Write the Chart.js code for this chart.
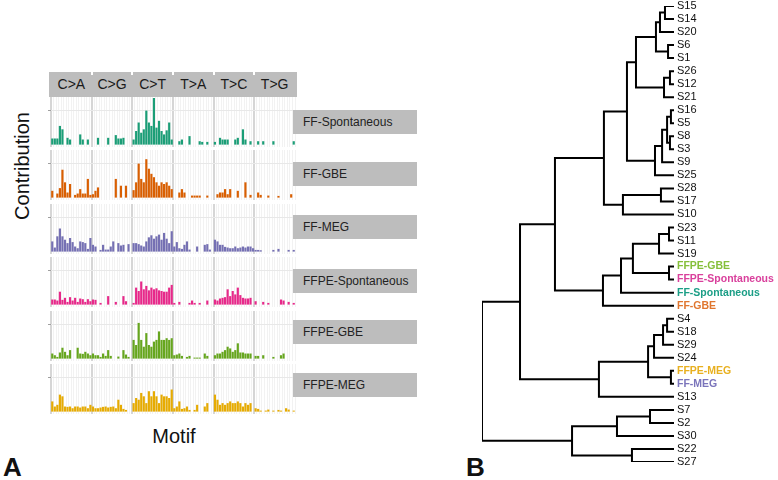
<!DOCTYPE html>
<html>
<head>
<meta charset="utf-8">
<script src="https://cdn.jsdelivr.net/npm/chart.js@4.4.1/dist/chart.umd.min.js"></script>
<style>
  body { margin: 0; background: #fff; width: 778px; height: 480px; overflow: hidden; position: relative;
         font-family: "Liberation Sans", Arial, sans-serif; color: #111; }
  .abs { position: absolute; }
  canvas { position: absolute; }
  .strip { background: #bdbdbd; }
  .stripText { font-size: 14px; text-align: center; line-height: 25px; color: #1a1a1a; }
  .rowLabel { background: #bdbdbd; font-size: 12px; line-height: 24px; padding-left: 10px; box-sizing: border-box; color: #222; }
  .title { font-size: 20px; text-align: center; line-height: 24px; }
  .panel { font-size: 26px; font-weight: bold; line-height: 26px; }
</style>
</head>
<body>
<div class="abs title" style="left:-78px; top:154px; width:200px; transform:rotate(-90deg);">Contribution</div>
<div class="abs title" style="left:124px; top:424px; width:100px;">Motif</div>
<div class="abs panel" style="left:3px; top:454px;">A</div>
<div class="abs panel" style="left:466px; top:454px;">B</div>

<script>
// ---- panel A data (contribution) ----
const facets = ['C>A', 'C>G', 'C>T', 'T>A', 'T>C', 'T>G'];
const bases = ['A', 'C', 'G', 'T'];
const motifs = [];
facets.forEach(f => bases.forEach(l => bases.forEach(r => motifs.push(l + '[' + f + ']' + r))));

const samples = ['FF-Spontaneous', 'FF-GBE', 'FF-MEG', 'FFPE-Spontaneous', 'FFPE-GBE', 'FFPE-MEG'];

const ffSpontaneous = [
  18, 18, 18, 55, 45, 0, 20, 15, 0, 0, 0, 30, 15, 0, 15, 0,
  0, 0, 20, 0, 0, 0, 20, 0, 0, 28, 18, 18, 20, 0, 0, 0,
  15, 40, 65, 35, 45, 100, 65, 55, 137, 50, 70, 40, 30, 42, 65, 15,
  0, 0, 10, 15, 0, 0, 25, 0, 0, 0, 10, 8, 0, 8, 0, 0,
  8, 0, 20, 15, 15, 15, 0, 0, 15, 20, 0, 45, 15, 0, 10, 0,
  0, 10, 0, 10, 0, 0, 0, 10, 0, 0, 0, 0, 0, 0, 0, 10
];
const ffGbe = [
  20, 0, 12, 28, 82, 45, 15, 40, 0, 8, 12, 25, 12, 12, 55, 8,
  10, 20, 30, 0, 0, 0, 0, 0, 0, 55, 0, 35, 0, 35, 0, 0,
  22, 45, 100, 55, 45, 113, 85, 70, 60, 45, 35, 45, 40, 45, 35, 25,
  0, 0, 15, 25, 15, 0, 0, 6, 6, 6, 6, 0, 0, 6, 0, 0,
  0, 10, 15, 15, 25, 10, 25, 0, 0, 20, 0, 0, 45, 0, 8, 0,
  0, 15, 8, 0, 0, 6, 0, 0, 0, 5, 0, 0, 0, 0, 10, 0
];
const ffMeg = [
  30, 12, 45, 68, 45, 35, 25, 40, 28, 15, 10, 30, 28, 25, 8, 40,
  20, 15, 0, 5, 20, 6, 6, 15, 30, 0, 25, 18, 20, 0, 22, 0,
  25, 25, 22, 18, 15, 30, 42, 48, 38, 45, 50, 35, 55, 38, 25, 60,
  15, 28, 10, 8, 20, 30, 6, 0, 0, 15, 0, 0, 20, 22, 6, 0,
  35, 30, 20, 20, 14, 12, 10, 10, 15, 10, 12, 15, 12, 15, 15, 10,
  5, 5, 4, 0, 0, 0, 0, 5, 0, 8, 0, 0, 0, 5, 0, 5
];
const ffpeSpontaneous = [
  15, 15, 12, 38, 14, 20, 8, 22, 12, 20, 8, 18, 16, 8, 16, 10,
  15, 14, 0, 5, 0, 0, 25, 0, 0, 8, 0, 0, 25, 10, 0, 0,
  5, 50, 40, 68, 45, 55, 42, 50, 45, 48, 42, 40, 38, 38, 50, 58,
  5, 0, 8, 0, 0, 0, 5, 12, 5, 0, 5, 0, 0, 12, 0, 0,
  15, 12, 18, 20, 22, 45, 25, 40, 30, 50, 28, 20, 18, 18, 20, 0,
  10, 0, 0, 8, 0, 5, 0, 0, 0, 0, 15, 12, 0, 8, 0, 5
];
const ffpeGbe = [
  15, 10, 5, 18, 32, 20, 10, 25, 0, 0, 32, 15, 14, 20, 15, 10,
  15, 10, 10, 5, 15, 8, 25, 8, 0, 0, 6, 0, 25, 12, 5, 0,
  55, 40, 105, 55, 35, 75, 40, 35, 50, 55, 80, 55, 55, 60, 55, 60,
  10, 12, 15, 8, 0, 5, 8, 0, 3, 3, 3, 0, 15, 8, 0, 0,
  10, 15, 15, 20, 25, 35, 30, 20, 25, 45, 18, 18, 15, 15, 15, 0,
  8, 8, 0, 10, 0, 0, 0, 5, 0, 0, 10, 15, 0, 0, 0, 0
];
const ffpeMeg = [
  30, 15, 20, 50, 45, 15, 14, 15, 10, 15, 15, 12, 15, 15, 10, 20,
  15, 10, 10, 12, 14, 15, 12, 14, 15, 10, 35, 20, 8, 5, 0, 0,
  25, 40, 35, 55, 45, 25, 60, 45, 60, 45, 25, 50, 45, 45, 40, 65,
  10, 15, 30, 8, 10, 15, 5, 0, 5, 20, 0, 0, 15, 25, 0, 0,
  50, 35, 20, 25, 20, 25, 30, 25, 25, 30, 25, 15, 25, 20, 25, 0,
  10, 8, 3, 0, 3, 6, 0, 3, 0, 5, 3, 0, 10, 6, 0, 3
];
const profiles = [ffSpontaneous, ffGbe, ffMeg, ffpeSpontaneous, ffpeGbe, ffpeMeg];

// ---- panel B data (hierarchical clustering) ----
const leaves = ['S15', 'S14', 'S20', 'S6', 'S1', 'S26', 'S12', 'S21', 'S16', 'S5', 'S8', 'S3', 'S9', 'S25',
  'S28', 'S17', 'S10', 'S23', 'S11', 'S19', 'FFPE-GBE', 'FFPE-Spontaneous', 'FF-Spontaneous', 'FF-GBE',
  'S4', 'S18', 'S29', 'S24', 'FFPE-MEG', 'FF-MEG', 'S13', 'S7', 'S2', 'S30', 'S22', 'S27'];
// [child, child, height]; a number refers to an earlier merge
const merges = [
  ['S15', 'S14', 0.047], [0, 'S20', 0.073], ['S6', 'S1', 0.031], [1, 2, 0.094],
  ['S26', 'S12', 0.021], [4, 'S21', 0.052], [3, 5, 0.198],
  ['S16', 'S5', 0.016], ['S8', 'S3', 0.021], [7, 8, 0.036], [9, 'S9', 0.062], [10, 'S25', 0.099],
  [6, 11, 0.245], ['S28', 'S17', 0.068], [13, 'S10', 0.266], [12, 14, 0.365],
  ['S23', 'S11', 0.026], [16, 'S19', 0.078], ['FFPE-GBE', 'FFPE-Spontaneous', 0.026], [17, 18, 0.214],
  [19, 'FF-Spontaneous', 0.276], [20, 'FF-GBE', 0.370], [15, 21, 0.620],
  ['S4', 'S18', 0.036], [23, 'S29', 0.057], [24, 'S24', 0.104], ['FFPE-MEG', 'FF-MEG', 0.016],
  [25, 26, 0.135], [27, 'S13', 0.391], [22, 28, 0.802],
  ['S7', 'S2', 0.125], [30, 'S30', 0.297], ['S22', 'S27', 0.219], [31, 32, 0.531], [29, 33, 1.0]
];

const sampleColors = ['#1b9e77', '#d95f02', '#7570b3', '#e7298a', '#66a61e', '#e6ab02'];
const leafColors = {
  'FFPE-GBE': '#86bf3a', 'FFPE-Spontaneous': '#d9409c', 'FF-Spontaneous': '#1b9e86',
  'FF-GBE': '#e0762f', 'FFPE-MEG': '#e8b020', 'FF-MEG': '#7a74bb'
};

const FONT = '"Liberation Sans", Arial, sans-serif';

// ---- strips and labels ----
const plotLeft = 51, plotRight = 295;
const facetW = (plotRight - plotLeft) / facets.length;
function addDiv(cls, style, text) {
  const d = document.createElement('div');
  d.className = 'abs ' + cls;
  Object.assign(d.style, style);
  if (text) d.textContent = text;
  document.body.appendChild(d);
  return d;
}
addDiv('strip', { left: '49px', top: '72px', width: '248px', height: '25px' });
facets.forEach((f, k) => {
  addDiv('stripText', { left: (plotLeft + k * facetW) + 'px', top: '72px', width: facetW + 'px' }, f);
  if (k > 0) addDiv('', { left: (plotLeft + k * facetW - 1) + 'px', top: '72px', width: '2px', height: '3px', background: '#fff' });
});

const rowTops = [97, 150, 204, 257, 311, 364];
const labelTops = [110, 162, 215, 269, 320, 373];

profiles.forEach((values, r) => {
  const cv = document.createElement('canvas');
  cv.width = 251; cv.height = 50;
  cv.style.left = '46px'; cv.style.top = rowTops[r] + 'px';
  document.body.appendChild(cv);
  new Chart(cv, {
    type: 'bar',
    data: {
      labels: motifs,
      datasets: [{ data: values, backgroundColor: sampleColors[r], barPercentage: 0.85, categoryPercentage: 1.0 }]
    },
    options: {
      responsive: false, animation: false, devicePixelRatio: 1,
      layout: { padding: { left: 0, right: 2, top: 0, bottom: 0 } },
      plugins: { legend: { display: false }, tooltip: { enabled: false } },
      scales: {
        x: {
          ticks: { display: false },
          border: { display: false },
          grid: {
            offset: true, drawTicks: false,
            color: ctx => ctx.index % 16 === 0 ? '#d6d6d6' : '#f2f2f2',
            lineWidth: ctx => ctx.index % 16 === 0 ? 2 : 1
          },
          afterFit: s => { s.height = 0; s.paddingLeft = 0; s.paddingRight = 0; }
        },
        y: {
          min: -7, max: 140,
          ticks: { stepSize: 33, padding: 0, callback: () => '' },
          border: { display: false },
          grid: { color: '#e8e8e8', tickLength: 3, tickColor: '#a0a0a0' },
          afterFit: s => { s.width = 5; s.paddingTop = 0; s.paddingBottom = 0; }
        }
      }
    }
  });
  addDiv('rowLabel', { left: '293px', top: labelTops[r] + 'px', width: '124px', height: '24px' }, samples[r]);
});

// ---- dendrogram ----
const nodeH = [], nodeY = [];
function childPos(c) {
  if (typeof c === 'number') return { h: nodeH[c], y: nodeY[c] };
  return { h: 0, y: leaves.indexOf(c) };
}
const dendroSets = merges.map(([a, b, h], i) => {
  const pa = childPos(a), pb = childPos(b);
  nodeH[i] = h;
  nodeY[i] = (pa.y + pb.y) / 2;
  return {
    data: [{ x: pa.h, y: pa.y }, { x: h, y: pa.y }, { x: h, y: pb.y }, { x: pb.h, y: pb.y }],
    showLine: true, borderColor: '#000', borderWidth: 2, pointRadius: 0, tension: 0, fill: false
  };
});

const dc = document.createElement('canvas');
dc.width = 308; dc.height = 480;
dc.style.left = '470px'; dc.style.top = '0px';
document.body.appendChild(dc);
new Chart(dc, {
  type: 'scatter',
  data: { datasets: dendroSets },
  options: {
    responsive: false, animation: false, devicePixelRatio: 1,
    layout: { padding: { left: 12, right: 0, top: 6, bottom: 18 } },
    plugins: { legend: { display: false }, tooltip: { enabled: false } },
    scales: {
      x: { type: 'linear', display: false, min: 0, max: 1, reverse: true },
      y: {
        type: 'linear', position: 'right', min: 0, max: leaves.length - 1, reverse: true,
        border: { display: false },
        grid: { display: false, drawTicks: false, tickLength: 0 },
        afterBuildTicks: s => { s.ticks = leaves.map((_, i) => ({ value: i })); },
        ticks: {
          autoSkip: false, padding: 3,
          callback: v => leaves[v],
          color: ctx => leafColors[leaves[ctx.index]] || '#111',
          font: ctx => ({ family: FONT, size: leafColors[leaves[ctx.index]] ? 10.5 : 11, weight: leafColors[leaves[ctx.index]] ? 'bold' : 'normal' })
        },
        afterFit: s => { s.width = 104; s.paddingTop = 0; s.paddingBottom = 0; }
      }
    }
  }
});
</script>
</body>
</html>
